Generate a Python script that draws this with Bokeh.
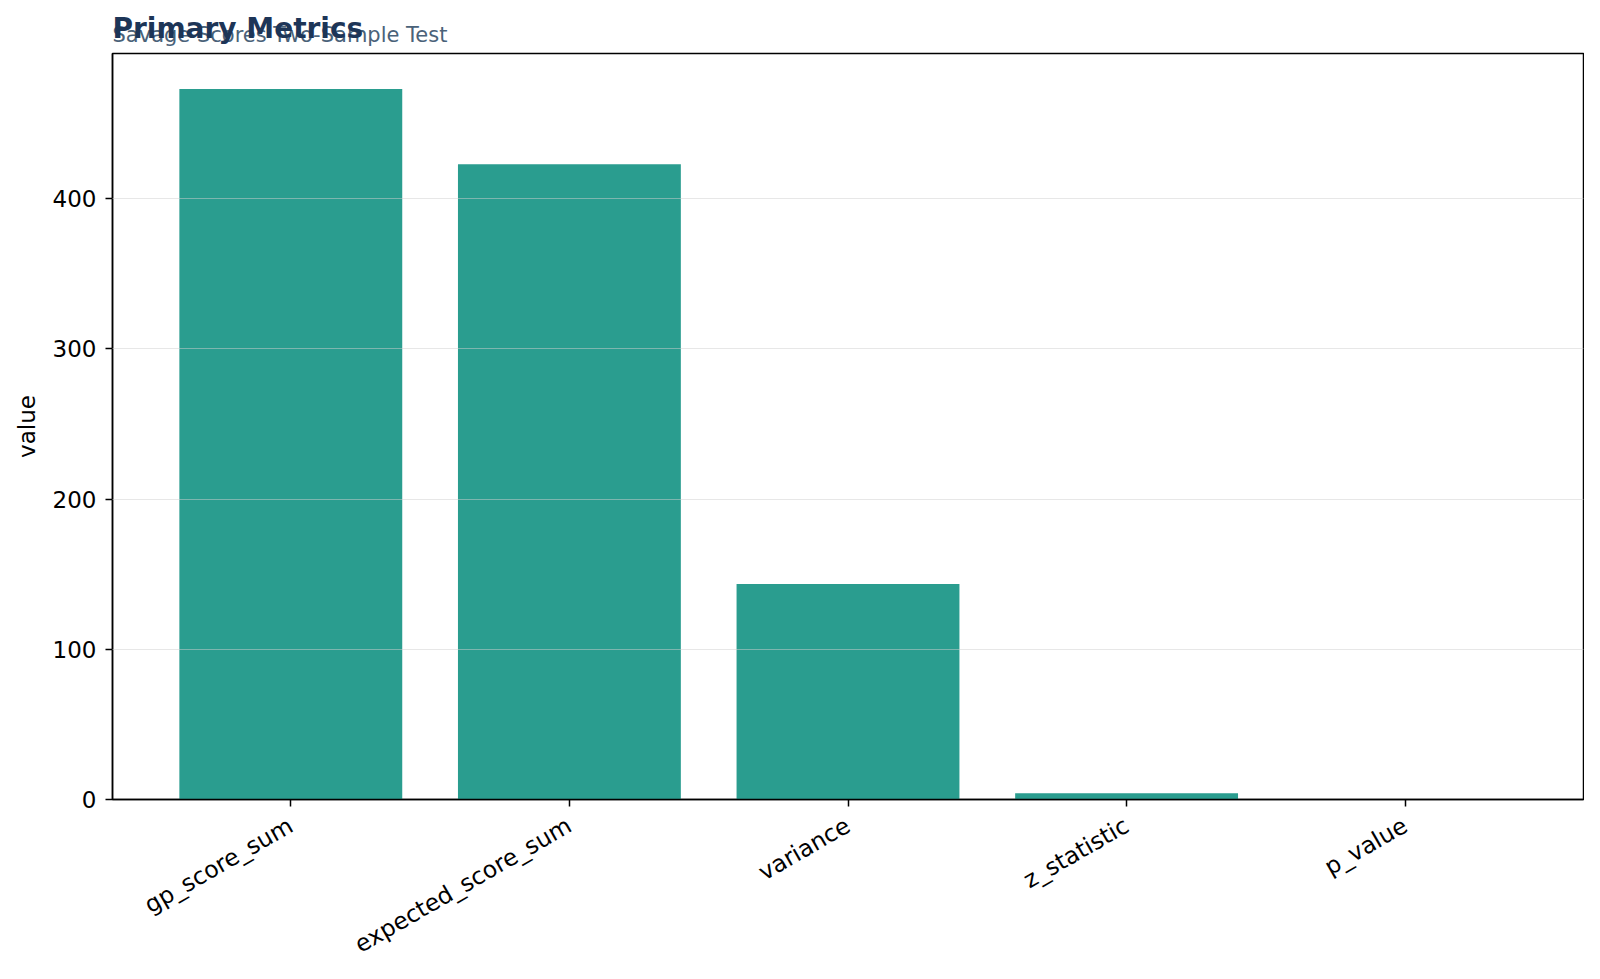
import math
from bokeh.plotting import figure
from bokeh.models import FactorRange, Range1d, FixedTicker, Title, ColumnDataSource
from bokeh.embed import file_html
from bokeh.resources import INLINE

categories = ["gp_score_sum", "expected_score_sum", "variance", "z_statistic", "p_value"]
values = [473.0, 423.0, 143.5, 4.17, 0.00003]
y_ticks = [0, 100, 200, 300, 400]

title_text = "Primary Metrics"
subtitle_text = "Savage Scores Two-Sample Test"
y_label = "value"

FONT = "DejaVu Sans"
BAR = "#2a9d8f"

src = ColumnDataSource(dict(cat=categories, val=values))

p = figure(
    x_range=FactorRange(factors=categories, range_padding=0.056, range_padding_units="percent"),
    y_range=Range1d(0, max(values) * 1.05),
    frame_width=1471, frame_height=746,
    min_border_left=112, min_border_right=1, min_border_top=53, min_border_bottom=164,
    output_backend="svg", toolbar_location=None,
)

p.vbar(x="cat", top="val", width=0.8, source=src, fill_color=BAR, fill_alpha=1.0, line_color=None)

p.background_fill_color = "white"
p.border_fill_color = "white"
p.outline_line_color = "black"
p.outline_line_width = 1.5

p.xgrid.visible = False
p.ygrid.ticker = FixedTicker(ticks=y_ticks)
p.ygrid.grid_line_color = "#d0d0d0"
p.ygrid.grid_line_alpha = 0.5
p.ygrid.grid_line_width = 1
p.ygrid.level = "overlay"

p.yaxis.ticker = FixedTicker(ticks=y_ticks)
for ax in (p.xaxis[0], p.yaxis[0]):
    ax.axis_line_color = "black"
    ax.axis_line_width = 1.5
    ax.major_tick_line_color = "black"
    ax.major_tick_line_width = 1.5
    ax.major_tick_out = 7
    ax.major_tick_in = 0
    ax.minor_tick_line_color = None
    ax.major_label_text_font = FONT
    ax.major_label_text_font_size = "23px"
    ax.major_label_text_color = "black"
    ax.major_label_standoff = 9

p.xaxis.major_label_standoff = 17
p.xaxis.major_label_text_font_size = "23.5px"
p.xaxis.major_label_orientation = math.pi / 6
p.yaxis.axis_label = y_label
p.yaxis.axis_label_text_font = FONT
p.yaxis.axis_label_text_font_size = "23px"
p.yaxis.axis_label_text_font_style = "normal"
p.yaxis.axis_label_text_color = "black"
p.yaxis.axis_label_standoff = 10

sub = Title(text=subtitle_text, align="left", standoff=12.7,
            text_font=FONT, text_font_size="21px", text_font_style="normal",
            text_color="#4a6279")
main = Title(text=title_text, align="left", standoff=-60.8,
             text_font=FONT, text_font_size="28px", text_font_style="bold",
             text_color="#1d3557")
p.add_layout(sub, "above")
p.add_layout(main, "above")

open("out.html", "w").write(file_html(p, INLINE))
